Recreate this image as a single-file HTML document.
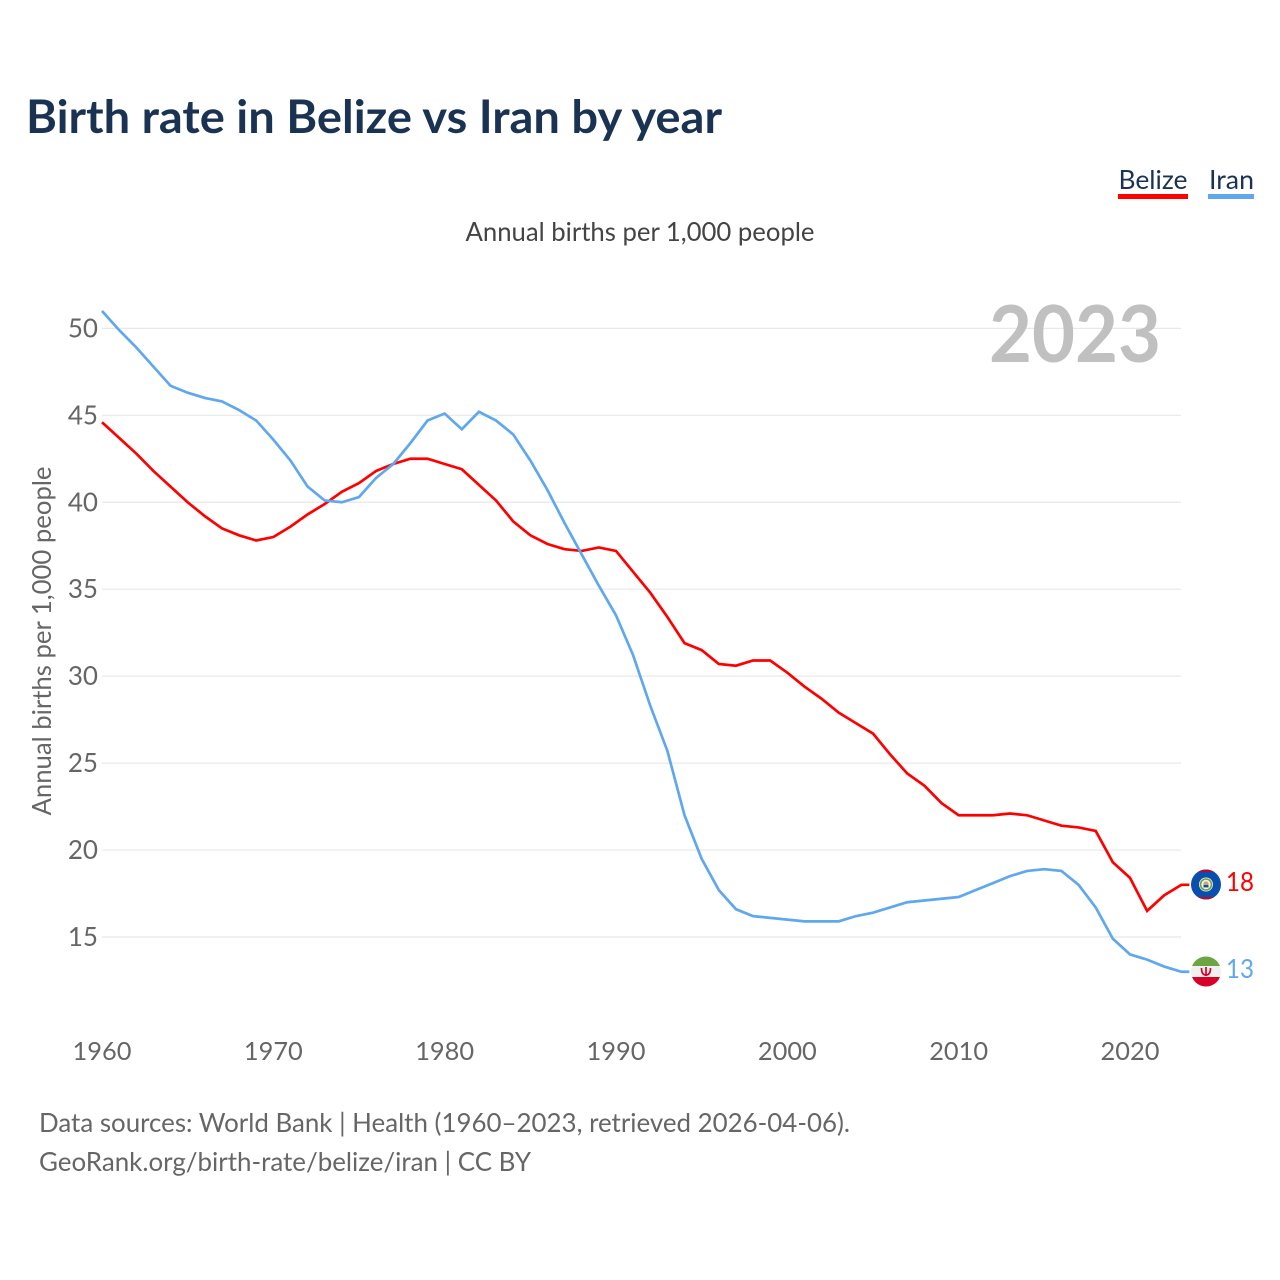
<!DOCTYPE html>
<html lang="en">
<head>
<meta charset="utf-8">
<title>Birth rate in Belize vs Iran by year</title>
<style>
html,body{margin:0;padding:0;background:#fff;}
svg{display:block;font-family:"Lato","Carlito","Liberation Sans",sans-serif;}
</style>
</head>
<body>
<svg id="chart" width="1280" height="1280" viewBox="0 0 1280 1280" xmlns="http://www.w3.org/2000/svg">
  <rect x="0" y="0" width="1280" height="1280" fill="#ffffff"/>
  <defs>
    <clipPath id="clip-belize"><circle cx="1206" cy="884.5" r="15"/></clipPath>
    <clipPath id="clip-iran"><circle cx="1206" cy="971.5" r="15"/></clipPath>
  </defs>
  <text x="26" y="133" font-size="46" font-weight="700" fill="#1a3353" textLength="696" lengthAdjust="spacingAndGlyphs">Birth rate in Belize vs Iran by year</text>

  <g>
    <g>
      <text x="1118.5" y="189" font-size="26" fill="#1a3353" textLength="69" lengthAdjust="spacingAndGlyphs">Belize</text>
      <rect x="1118" y="194" width="70" height="5" fill="#ff0000"/>
    </g>
    <g>
      <text x="1209" y="189" font-size="26" fill="#1a3353" textLength="45" lengthAdjust="spacingAndGlyphs">Iran</text>
      <rect x="1208" y="194" width="46" height="5" fill="#5fa8ee"/>
    </g>
  </g>

  <text x="640" y="241" font-size="26" fill="#444444" text-anchor="middle" textLength="349" lengthAdjust="spacingAndGlyphs">Annual births per 1,000 people</text>
  <text transform="translate(51,641) rotate(-90)" font-size="26" fill="#666666" text-anchor="middle" textLength="349" lengthAdjust="spacingAndGlyphs">Annual births per 1,000 people</text>

  <g id="grid"></g>
  <g id="y-ticks"></g>
  <g id="x-ticks"></g>

  <text x="1161" y="362" font-size="79" font-weight="700" fill="#c0c0c0" text-anchor="end" textLength="172" lengthAdjust="spacingAndGlyphs">2023</text>

  <g id="lines"></g>

  <g clip-path="url(#clip-belize)">
    <rect x="1191" y="869" width="30" height="31" fill="#0b4fae"/>
    <rect x="1191" y="869" width="30" height="3" fill="#b01030"/>
    <rect x="1191" y="897" width="30" height="3" fill="#b01030"/>
    <circle cx="1206" cy="884.5" r="7" fill="#f0f0e8"/>
    <circle cx="1206" cy="884.5" r="5.5" fill="none" stroke="#6da544" stroke-width="1.6"/>
    <circle cx="1206" cy="884" r="2.6" fill="#d8a070"/>
    <rect x="1203.5" y="885" width="5" height="2.4" fill="#0b4fae"/>
  </g>
  <g clip-path="url(#clip-iran)">
    <rect x="1191" y="956" width="30" height="31" fill="#f0f0f0"/>
    <rect x="1191" y="956" width="30" height="10" fill="#6da544"/>
    <rect x="1191" y="977" width="30" height="10" fill="#d80027"/>
    <path d="M1201.5 968 q0 7 4.5 7 q4.5 0 4.5-7 M1206 967 v9" fill="none" stroke="#d80027" stroke-width="1.7"/>
  </g>

  <text x="1226" y="891" font-size="26" fill="#ff0000" textLength="28" lengthAdjust="spacingAndGlyphs">18</text>
  <text x="1226" y="978" font-size="26" fill="#5fa8ee" textLength="28" lengthAdjust="spacingAndGlyphs">13</text>

  <text x="39" y="1132" font-size="26" fill="#666666" textLength="811" lengthAdjust="spacingAndGlyphs">Data sources: World Bank | Health (1960–2023, retrieved 2026-04-06).</text>
  <text x="39" y="1171" font-size="26" fill="#666666" textLength="492" lengthAdjust="spacingAndGlyphs">GeoRank.org/birth-rate/belize/iran | CC BY</text>
</svg>
<script>
const years = [1960,1961,1962,1963,1964,1965,1966,1967,1968,1969,1970,1971,1972,1973,1974,1975,1976,1977,1978,1979,1980,1981,1982,1983,1984,1985,1986,1987,1988,1989,1990,1991,1992,1993,1994,1995,1996,1997,1998,1999,2000,2001,2002,2003,2004,2005,2006,2007,2008,2009,2010,2011,2012,2013,2014,2015,2016,2017,2018,2019,2020,2021,2022,2023];
const belizeValues = [44.6,43.7,42.8,41.8,40.9,40.0,39.2,38.5,38.1,37.8,38.0,38.6,39.3,39.9,40.6,41.1,41.8,42.2,42.5,42.5,42.2,41.9,41.0,40.1,38.9,38.1,37.6,37.3,37.2,37.4,37.2,36.0,34.8,33.4,31.9,31.5,30.7,30.6,30.9,30.9,30.2,29.4,28.7,27.9,27.3,26.7,25.5,24.4,23.7,22.7,22.0,22.0,22.0,22.1,22.0,21.7,21.4,21.3,21.1,19.3,18.4,16.5,17.4,18.0];
const iranValues = [51.0,49.9,48.9,47.8,46.7,46.3,46.0,45.8,45.3,44.7,43.6,42.4,40.9,40.1,40.0,40.3,41.4,42.2,43.4,44.7,45.1,44.2,45.2,44.7,43.9,42.4,40.7,38.8,37.0,35.2,33.5,31.2,28.3,25.7,22.0,19.5,17.7,16.6,16.2,16.1,16.0,15.9,15.9,15.9,16.2,16.4,16.7,17.0,17.1,17.2,17.3,17.7,18.1,18.5,18.8,18.9,18.8,18.0,16.7,14.9,14.0,13.7,13.3,13.0];
const yTickValues = [15,20,25,30,35,40,45,50];
const xTickValues = [1960,1970,1980,1990,2000,2010,2020];

const NS = 'http://www.w3.org/2000/svg';
function xScale(year){ return 102 + (year - 1960) * 17.133; }
function yScale(value){ return 937 - (value - 15) * 17.39; }

const grid = document.getElementById('grid');
const yTicks = document.getElementById('y-ticks');
const xTicks = document.getElementById('x-ticks');
const linesGroup = document.getElementById('lines');

yTickValues.forEach(function(v){
  const line = document.createElementNS(NS, 'line');
  
  
  line.setAttribute('x1', 102);
  line.setAttribute('x2', 1181);
  line.setAttribute('y1', yScale(v));
  line.setAttribute('y2', yScale(v));
  line.setAttribute('stroke', '#e8e8e8');
  line.setAttribute('stroke-width', '1.2');
  grid.appendChild(line);

  const label = document.createElementNS(NS, 'text');
  
  
  label.setAttribute('x', 98);
  label.setAttribute('y', yScale(v) + 9);
  label.setAttribute('font-size', '26');
  label.setAttribute('fill', '#666666');
  label.setAttribute('text-anchor', 'end');
  label.textContent = String(v);
  yTicks.appendChild(label);
});

xTickValues.forEach(function(y){
  const label = document.createElementNS(NS, 'text');
  
  
  label.setAttribute('x', xScale(y));
  label.setAttribute('y', 1060);
  label.setAttribute('font-size', '25.4');
  label.setAttribute('fill', '#666666');
  label.setAttribute('text-anchor', 'middle');
  label.textContent = String(y);
  xTicks.appendChild(label);
});

function linePath(values){
  let d = '';
  values.forEach(function(v, i){
    d += (i ? 'L' : 'M') + xScale(years[i]).toFixed(2) + ' ' + yScale(v).toFixed(2);
  });
  d += 'H' + (xScale(years[years.length - 1]) + 8).toFixed(2);
  return d;
}

const belizeLine = document.createElementNS(NS, 'path');


belizeLine.setAttribute('d', linePath(belizeValues));
belizeLine.setAttribute('fill', 'none');
belizeLine.setAttribute('stroke', '#ff0000');
belizeLine.setAttribute('stroke-width', '2.7');
linesGroup.appendChild(belizeLine);

const iranLine = document.createElementNS(NS, 'path');


iranLine.setAttribute('d', linePath(iranValues));
iranLine.setAttribute('fill', 'none');
iranLine.setAttribute('stroke', '#5fa8ee');
iranLine.setAttribute('stroke-width', '2.7');
linesGroup.appendChild(iranLine);
</script>
</body>
</html>
